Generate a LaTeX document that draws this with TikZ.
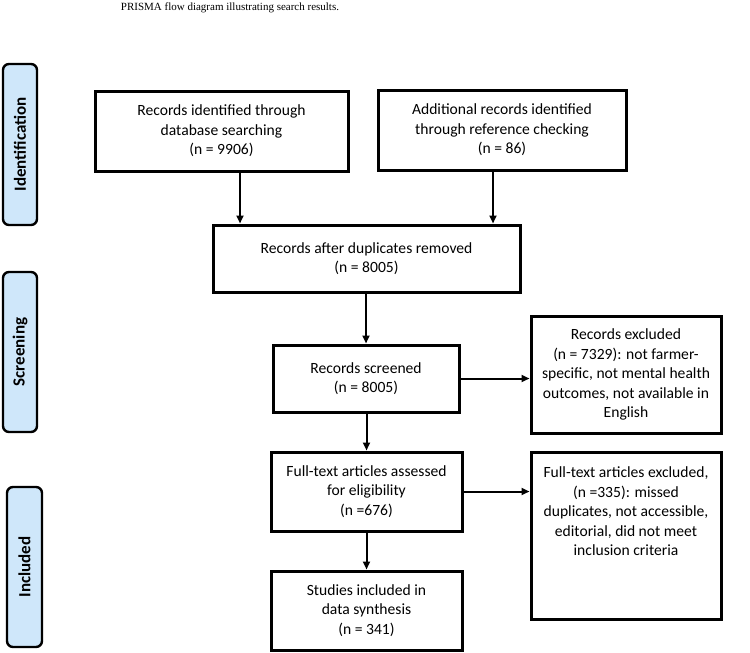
\documentclass[tikz,border=0pt]{standalone}
\usepackage{fontspec}
\setmainfont{Carlito}
\newfontfamily\titlefont{Liberation Serif}
\usetikzlibrary{arrows.meta}
\definecolor{phase}{RGB}{207,231,250}
\begin{document}
\begin{tikzpicture}[x=1pt,y=-1pt,
  box/.style={draw=black,line width=3pt,rectangle,inner sep=0pt,align=center,
    font=\fontsize{15.6}{19.5}\selectfont},
  phasebox/.style={draw=black,line width=2.4pt,fill=phase,rounded corners=6pt,inner sep=0pt,
    minimum width=34pt,minimum height=160pt},
  phasetext/.style={font=\bfseries\fontsize{17}{19}\selectfont,rotate=90},
  arr/.style={line width=2pt,-{Triangle[length=8pt,width=7pt]}}]
\useasboundingbox (0,0) rectangle (750,653);
\node[font=\titlefont\fontsize{11}{13}\selectfont] (title) at (230,8) {PRISMA flow diagram illustrating search results.};
% phase labels
\node[phasebox,minimum height=161pt] (ident) at (20,144.5) {};
\node[phasetext] (identT) at (ident.center) {Identification};
\node[phasebox] (screen) at (20,352) {};
\node[phasetext] (screenT) at (screen.center) {Screening};
\node[phasebox,minimum width=35pt] (incl) at (24.5,567) {};
\node[phasetext] (inclT) at (incl.center) {Included};
% boxes
\node[box,minimum width=253pt,minimum height=80pt] (b1) at (221.5,131)
  {Records identified through\\database searching\\(n = 9906)};
\node[box,minimum width=248pt,minimum height=80pt] (b2) at (502,130)
  {Additional records identified\\through reference checking\\(n = 86)};
\node[box,minimum width=307pt,minimum height=67pt] (b3) at (366.5,258.5)
  {Records after duplicates removed\\(n = 8005)};
\node[box,minimum width=186pt,minimum height=67pt] (b4) at (366,378.5)
  {Records screened\\(n = 8005)};
\node[box,minimum width=190pt,minimum height=117pt] (b5) at (626,374.5)
  {Records excluded\\(n = 7329): not farmer-\\specific, not mental health\\outcomes, not available in\\English};
\node[box,minimum width=191pt,minimum height=79pt] (b6) at (366.5,491.5)
  {Full-text articles assessed\\for eligibility\\(n =676)};
\node[box,minimum width=190pt,minimum height=167pt,anchor=north] (b7) at (626,451)
  {\parbox[t][150pt][t]{185pt}{\centering\vspace{6pt}Full-text articles excluded,\\(n =335): missed\\duplicates, not accessible,\\editorial, did not meet\\inclusion criteria}};
\node[box,minimum width=191pt,minimum height=79pt] (b8) at (366.5,610.5)
  {Studies included in\\data synthesis\\(n = 341)};
% connectors
\draw[arr] ([xshift=18.5pt]b1.south) -- ([xshift=18.5pt]b1.south |- b3.north);
\draw[arr] ([xshift=-9pt]b2.south) -- ([xshift=-9pt]b2.south |- b3.north);
\draw[arr] (b3.south -| b4.north) -- (b4.north);
\draw[arr] (b4.east) -- (b4.east -| b5.west);
\draw[arr] (b4.south -| b6.north) -- (b6.north);
\draw[arr] (b6.east) -- (b6.east -| b7.west);
\draw[arr] (b6.south) -- (b8.north);
\end{tikzpicture}
\end{document}
